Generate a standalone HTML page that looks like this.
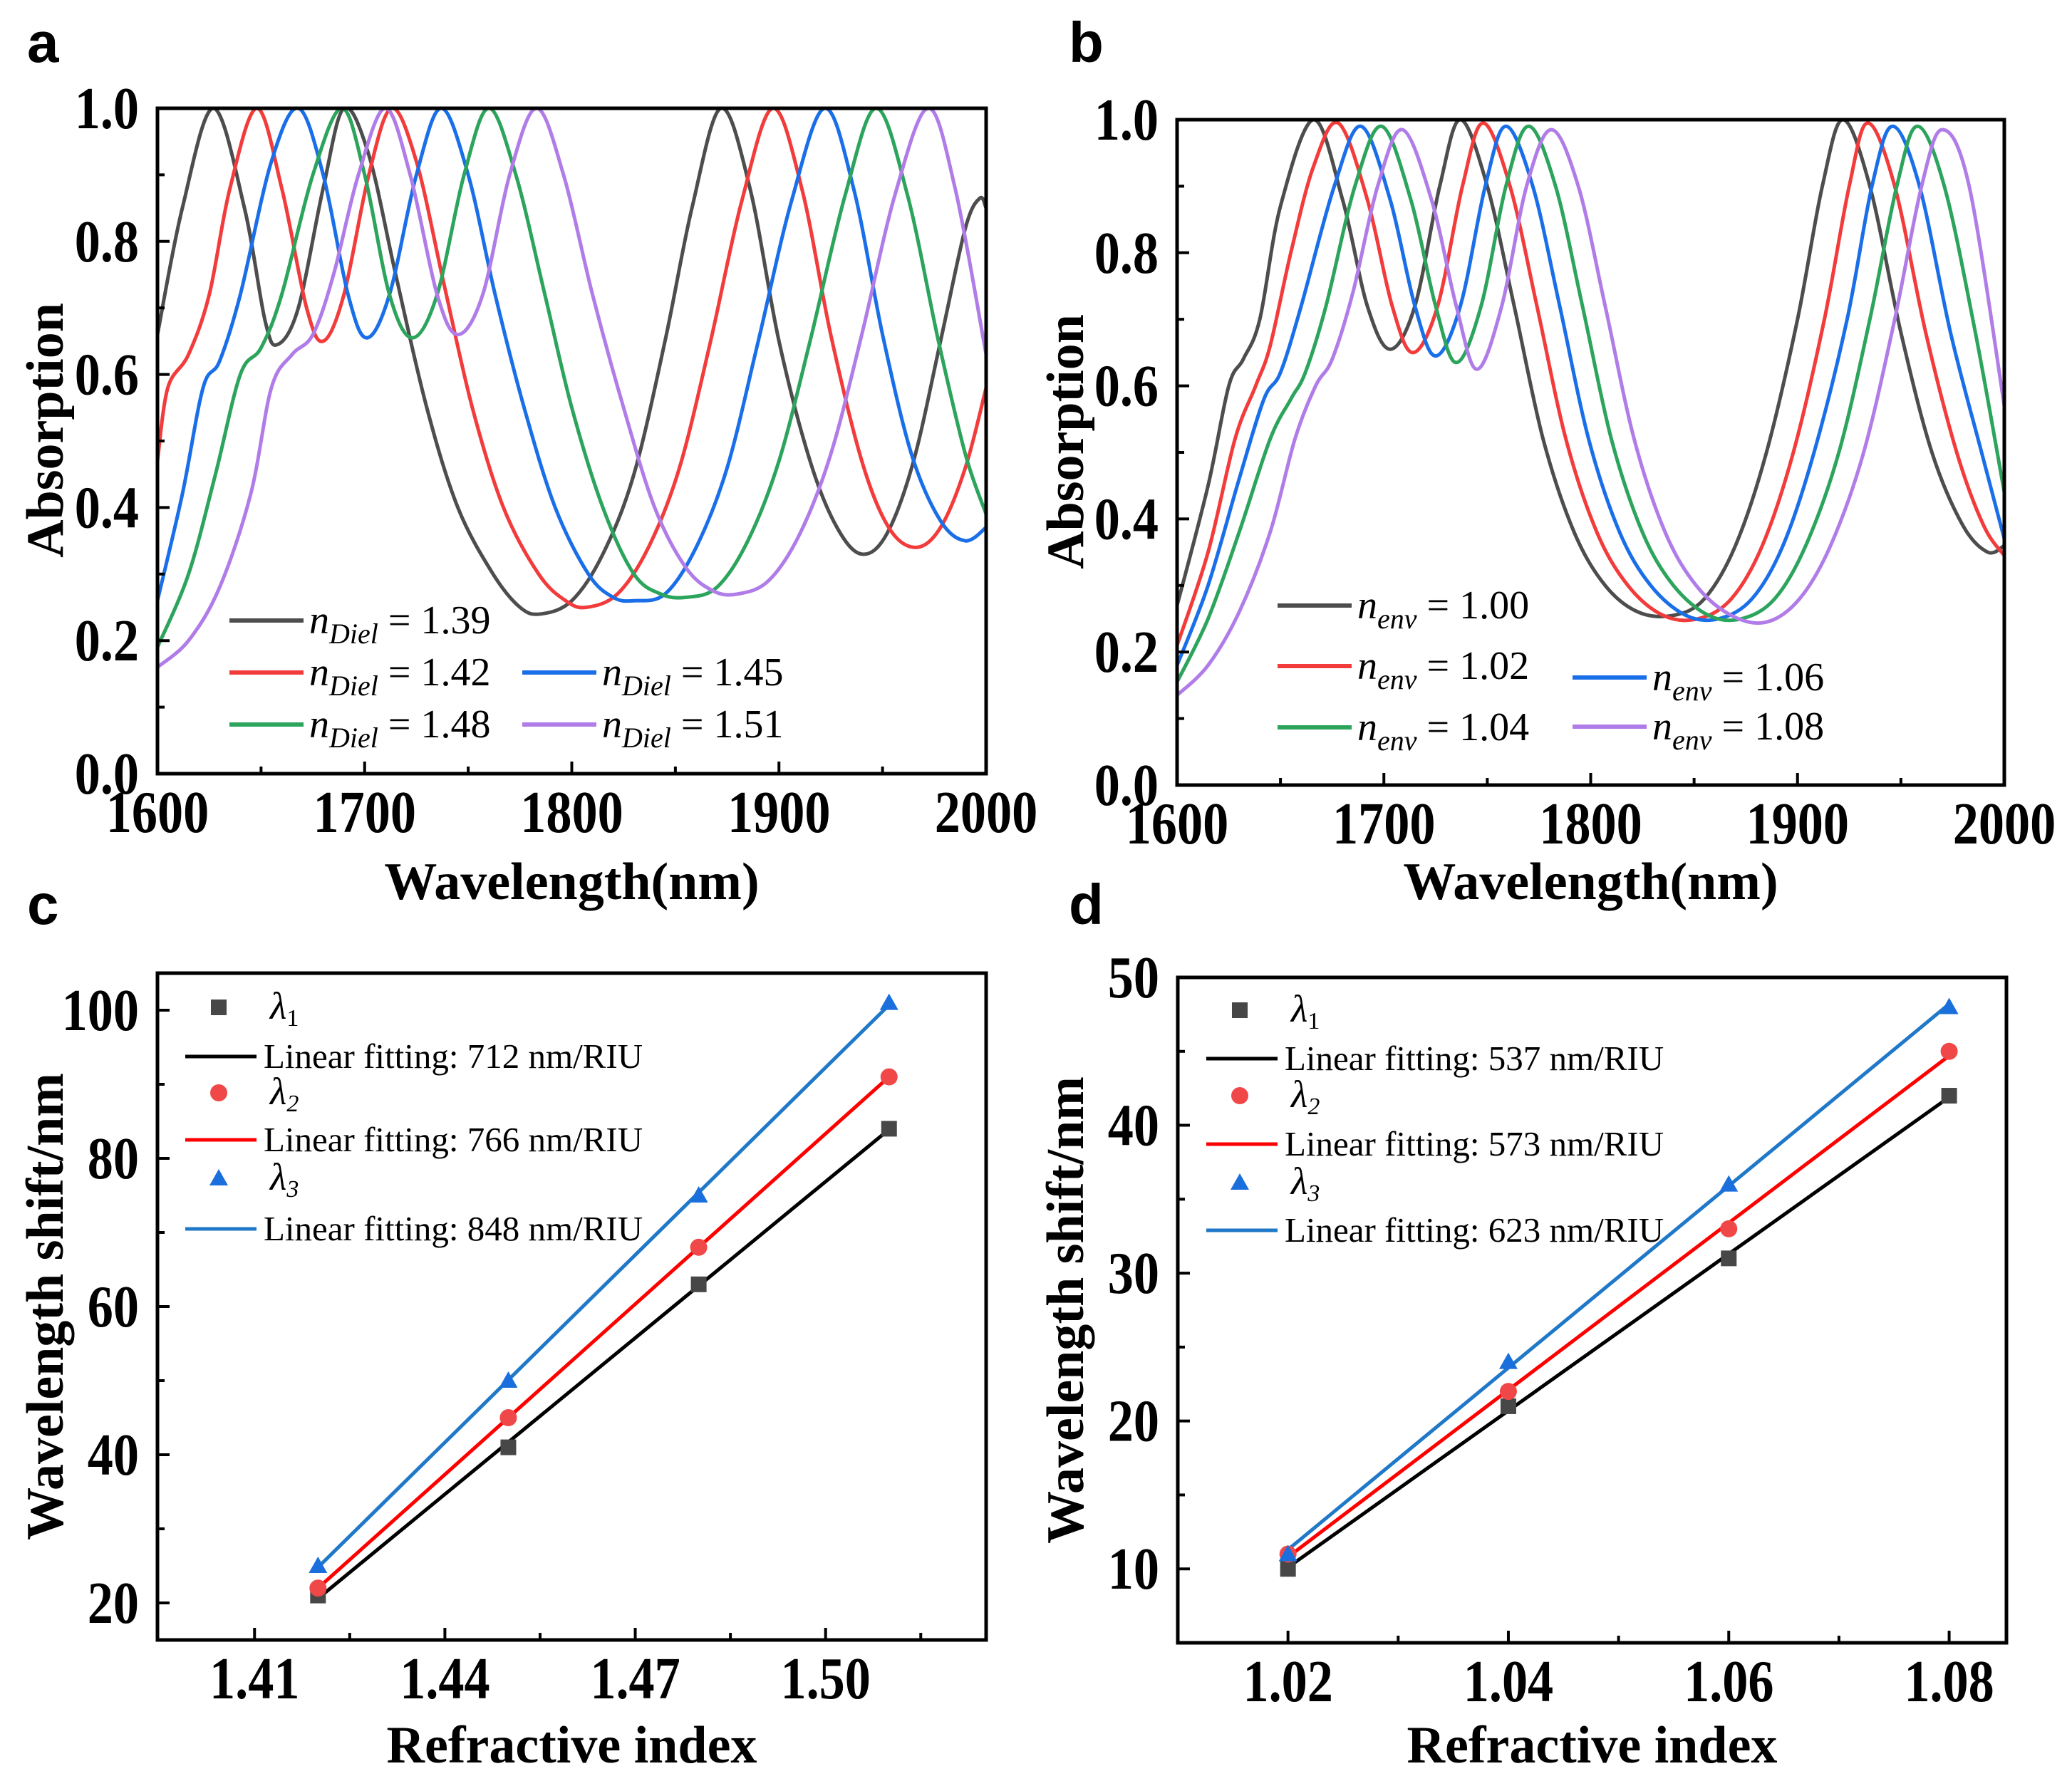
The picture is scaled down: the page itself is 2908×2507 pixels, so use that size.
<!DOCTYPE html>
<html><head><meta charset="utf-8">
<style>
html,body{margin:0;padding:0;background:#fff;}
svg{display:block;}
text{font-family:"Liberation Serif",serif;}
.tick{font-weight:bold;font-size:84px;}
.title{font-weight:bold;font-size:74px;}
.letter{font-family:"Liberation Sans",sans-serif;font-weight:bold;font-size:80px;}
.leg{font-size:56px;}
.leg2{font-size:49px;}
</style></head>
<body>
<svg id="fig" width="2908" height="2507" viewBox="0 0 2908 2507" xmlns="http://www.w3.org/2000/svg"></svg>
<script>
// ---------- Panel a data ----------
const aLabels = ["1.39","1.42","1.45","1.48","1.51"];
const aW139 = [1600,1612,1627,1642,1652,1658,1668,1680,1690,1702,1715,1730,1745,1762,1775,1785,1800,1815,1830,1845,1858,1872,1886,1900,1915,1928,1940,1952,1965,1978,1990,1997,2000];
const aA139 = [0.66,0.85,1.0,0.85,0.68,0.645,0.7,0.88,1.0,0.93,0.75,0.55,0.4,0.3,0.25,0.24,0.26,0.33,0.45,0.65,0.85,1.0,0.88,0.65,0.47,0.37,0.33,0.36,0.47,0.65,0.82,0.865,0.85];
const aW142 = [1600,1605,1615,1625,1635,1648,1660,1672,1680,1690,1702,1713,1725,1738,1752,1767,1784,1797,1807,1822,1837,1852,1867,1882,1897,1911,1925,1940,1953,1966,1978,1990,2000];
const aA142 = [0.47,0.58,0.63,0.72,0.88,1.0,0.88,0.7,0.65,0.72,0.9,1.0,0.92,0.74,0.55,0.4,0.3,0.26,0.25,0.27,0.34,0.46,0.65,0.86,1.0,0.88,0.66,0.47,0.37,0.34,0.37,0.46,0.58];
const aW145 = [1600,1612,1622,1630,1640,1655,1668,1680,1692,1701,1712,1725,1737,1750,1763,1777,1792,1808,1820,1830,1845,1860,1875,1890,1906,1922,1936,1950,1964,1978,1990,2000];
const aA145 = [0.26,0.42,0.58,0.62,0.72,0.92,1.0,0.9,0.72,0.655,0.72,0.9,1.0,0.9,0.72,0.55,0.4,0.3,0.265,0.26,0.27,0.34,0.46,0.65,0.86,1.0,0.88,0.66,0.48,0.38,0.35,0.37];
const aW148 = [1600,1615,1628,1640,1650,1660,1675,1689,1700,1712,1723,1735,1748,1760,1773,1787,1800,1815,1830,1843,1855,1870,1885,1900,1915,1932,1947,1962,1977,1990,2000];
const aA148 = [0.19,0.3,0.45,0.6,0.64,0.72,0.9,1.0,0.9,0.72,0.655,0.72,0.9,1.0,0.9,0.72,0.55,0.4,0.3,0.27,0.265,0.28,0.35,0.47,0.65,0.87,1.0,0.87,0.65,0.48,0.39];
const aW151 = [1600,1615,1630,1645,1655,1665,1675,1685,1697,1710,1722,1735,1745,1757,1770,1783,1796,1810,1825,1840,1855,1868,1880,1895,1910,1925,1940,1956,1972,1985,2000];
const aA151 = [0.16,0.2,0.28,0.42,0.58,0.63,0.66,0.75,0.9,1.0,0.9,0.72,0.66,0.72,0.9,1.0,0.9,0.72,0.55,0.4,0.31,0.275,0.27,0.29,0.36,0.48,0.66,0.87,1.0,0.88,0.63];
// ---------- Panel b data ----------
const bLabels = ["1.00","1.02","1.06","1.04","1.08"];
const bW100 = [1600,1615,1625,1632,1640,1650,1666,1680,1692,1703,1715,1727,1737,1750,1763,1777,1792,1807,1823,1840,1855,1870,1885,1900,1912,1922,1935,1950,1965,1980,1992,2000];
const bA100 = [0.27,0.45,0.6,0.64,0.7,0.87,1.0,0.88,0.72,0.655,0.72,0.9,1.0,0.9,0.72,0.52,0.38,0.3,0.26,0.255,0.28,0.36,0.5,0.7,0.9,1.0,0.9,0.68,0.5,0.39,0.35,0.36];
const bW102 = [1600,1615,1628,1638,1645,1655,1666,1678,1692,1704,1714,1726,1738,1748,1761,1774,1788,1803,1818,1835,1852,1868,1883,1898,1913,1925,1934,1947,1962,1977,1990,2000];
const bA102 = [0.21,0.35,0.52,0.6,0.66,0.8,0.93,0.995,0.88,0.72,0.65,0.72,0.9,0.995,0.9,0.72,0.52,0.38,0.3,0.255,0.25,0.28,0.36,0.5,0.7,0.9,0.995,0.9,0.68,0.5,0.39,0.345];
const bW104 = [1600,1615,1630,1642,1650,1660,1676,1689,1703,1715,1725,1737,1749,1759,1772,1785,1799,1814,1829,1846,1862,1878,1893,1908,1924,1936,1946,1959,1974,1989,2000];
const bA104 = [0.18,0.3,0.46,0.58,0.62,0.72,0.9,0.99,0.88,0.72,0.645,0.72,0.9,0.99,0.9,0.72,0.52,0.38,0.3,0.255,0.25,0.28,0.36,0.5,0.7,0.9,0.99,0.9,0.68,0.5,0.37];
const bW106 = [1600,1615,1630,1645,1655,1662,1672,1686,1699,1713,1725,1735,1747,1759,1770,1783,1796,1810,1825,1840,1857,1873,1889,1904,1920,1935,1948,1958,1971,1986,2000];
const bA106 = [0.155,0.25,0.38,0.52,0.58,0.62,0.72,0.9,0.99,0.88,0.72,0.635,0.72,0.9,0.99,0.9,0.72,0.52,0.38,0.3,0.255,0.25,0.28,0.36,0.5,0.7,0.9,0.99,0.9,0.68,0.44];
const bW108 = [1600,1615,1630,1645,1657,1667,1675,1685,1697,1709,1723,1735,1745,1757,1769,1781,1794,1807,1821,1836,1851,1868,1885,1901,1916,1932,1947,1960,1970,1983,2000];
const bA108 = [0.135,0.18,0.26,0.38,0.52,0.6,0.64,0.74,0.9,0.985,0.88,0.72,0.625,0.72,0.9,0.985,0.9,0.72,0.52,0.38,0.3,0.255,0.245,0.28,0.36,0.5,0.7,0.9,0.985,0.9,0.57];
// ---------- Panel c data ----------
const cX = [1.42,1.45,1.48,1.51];
const cL1 = [21,41,63,84];
const cL2 = [22,45,68,91];
const cL3 = [25,50,75,101];
const cFitLabels = ["712","766","848"];
const cXTicks = [1.41,1.44,1.47,1.50];
const cXTickLabels = ["1.41","1.44","1.47","1.50"];
const cYTicks = [20,40,60,80,100];
// ---------- Panel d data ----------
const dX = [1.02,1.04,1.06,1.08];
const dL1 = [10,21,31,42];
const dL2 = [11,22,33,45];
const dL3 = [11,24,36,48];
const dFitLabels = ["537","573","623"];
const dXTicks = [1.02,1.04,1.06,1.08];
const dXTickLabels = ["1.02","1.04","1.06","1.08"];
const dYTicks = [10,20,30,40,50];
const specXTicks = [1600,1700,1800,1900,2000];
const specYTicks = [0,0.2,0.4,0.6,0.8,1.0];
const specYLabels = ["0.0","0.2","0.4","0.6","0.8","1.0"];

const NS="http://www.w3.org/2000/svg";
const svg=document.getElementById('fig');
function mk(tag,attrs,parent){const e=document.createElementNS(NS,tag);for(const k in attrs)e.setAttribute(k,attrs[k]);(parent||svg).appendChild(e);return e;}
function txt(s,attrs,parent){const e=mk('text',attrs,parent);e.textContent=s;return e;}
function lin(d0,d1,r0,r1){return v=>r0+(v-d0)/(d1-d0)*(r1-r0);}
function smooth(pts){let d='M'+pts[0][0].toFixed(1)+','+pts[0][1].toFixed(1);
 for(let i=0;i<pts.length-1;i++){const p0=pts[Math.max(0,i-1)],p1=pts[i],p2=pts[i+1],p3=pts[Math.min(pts.length-1,i+2)];
  const c1=[p1[0]+(p2[0]-p0[0])/6,p1[1]+(p2[1]-p0[1])/6],c2=[p2[0]-(p3[0]-p1[0])/6,p2[1]-(p3[1]-p1[1])/6];
  d+='C'+c1[0].toFixed(1)+','+c1[1].toFixed(1)+' '+c2[0].toFixed(1)+','+c2[1].toFixed(1)+' '+p2[0].toFixed(1)+','+p2[1].toFixed(1);}
 return d;}

function frame(g,L,T,R,B,xs,ys,xt,xtl,yt,ytl,xminor,yminor){
  const ax=mk('g',{},g);
  
  
  xminor.forEach(v=>mk('line',{x1:xs(v),x2:xs(v),y1:B,y2:B-10,stroke:'#000','stroke-width':4},ax));
  yminor.forEach(v=>mk('line',{x1:L,x2:L+10,y1:ys(v),y2:ys(v),stroke:'#000','stroke-width':4},ax));
  xt.forEach((v,i)=>{mk('line',{x1:xs(v),x2:xs(v),y1:B,y2:B-17,stroke:'#000','stroke-width':4},ax);
    const t=txt(xtl[i],{x:0,y:0,'text-anchor':'middle',class:'tick',transform:'translate('+xs(v)+','+(B+82)+') scale(0.86,1)'},ax);
    
    });
  yt.forEach((v,i)=>{mk('line',{x1:L,x2:L+17,y1:ys(v),y2:ys(v),stroke:'#000','stroke-width':4},ax);
    const t=txt(ytl[i],{x:0,y:0,'text-anchor':'end',class:'tick',transform:'translate('+(L-26)+','+(ys(v)+28)+') scale(0.86,1)'},ax);
    
    });
  mk('rect',{x:L,y:T,width:R-L,height:B-T,fill:'none',stroke:'#000','stroke-width':5},ax);
}

const specColors=['#4d4d4d','#f23c3c','#1a6fe8','#2ca45c','#b07ce8'];
function spectrum(id,L,T,R,B,series,labels,sub,legendPos,letter,letterX,ytitleX){
  const g=mk('g',{});
  
  
  const xs=lin(1600,2000,L,R), ys=lin(0,1,B,T);
  mk('clipPath',{id:'clip'+id},g).appendChild(mk('rect',{x:L,y:T-2,width:R-L,height:B-T+2},g));
  const cg=mk('g',{'clip-path':'url(#clip'+id+')'},g);
  series.forEach((s,i)=>{const p=mk('path',{d:smooth(s[0].map((w,j)=>[xs(w),ys(s[1][j])])),fill:'none',stroke:specColors[i],'stroke-width':5,'stroke-linejoin':'round'},cg);
    
    });
  const minorX=[1650,1750,1850,1950], minorY=[0.1,0.3,0.5,0.7,0.9];
  frame(g,L,T,R,B,xs,ys,specXTicks,specXTicks.map(String),specYTicks,specYLabels,minorX,minorY);
  legendPos.forEach((p,i)=>{
    const lg=mk('g',{},g);
    
    
    mk('line',{x1:p[0],x2:p[0]+104,y1:p[1],y2:p[1],stroke:specColors[i],'stroke-width':6},lg);
    const t=mk('text',{x:p[0]+112,y:p[1]+18,class:'leg'},lg);
    const n=mk('tspan',{'font-style':'italic'},t); n.textContent='n';
    const sb=mk('tspan',{'font-style':'italic','font-size':'40px',dy:14},t); sb.textContent=sub;
    const v=mk('tspan',{dy:-14},t); v.textContent=' = '+labels[i];
  });
  const lt=txt(letter,{x:letterX,y:87,class:'letter'},g);
  
  
  const xt=txt('Wavelength(nm)',{x:(L+R)/2,y:1262,'text-anchor':'middle',class:'title'},g);
  
  
  const yt=txt('Absorption',{x:0,y:0,'text-anchor':'middle',class:'title',transform:'translate('+ytitleX+','+((T+B)/2-15)+') rotate(-90)'},g);
  
  
}

spectrum('a',221,152,1384,1086,[[aW139,aA139],[aW142,aA142],[aW145,aA145],[aW148,aA148],[aW151,aA151]],aLabels,'Diel',
  [[322,871],[322,944],[733,944],[322,1017],[733,1017]],'a',38,88);
spectrum('b',1652,168,2813,1102,[[bW100,bA100],[bW102,bA102],[bW104,bA104],[bW106,bA106],[bW108,bA108]],bLabels,'env',
  [[1793,850],[1793,935],[2207,951],[1793,1021],[2207,1020]],'b',1500,1520);

function fit(xv,yv){const n=xv.length,mx=xv.reduce((a,b)=>a+b)/n,my=yv.reduce((a,b)=>a+b)/n;
  let sxy=0,sxx=0;xv.forEach((x,i)=>{sxy+=(x-mx)*(yv[i]-my);sxx+=(x-mx)*(x-mx);});const k=sxy/sxx;return [k,my-k*mx];}

const fitColors=['#000000','#ff0000','#1f78c8'];
const markColors=['#474747','#f04848','#1a6fdc'];
function marker(g,type,x,y,c){
  if(type===0) return mk('rect',{x:x-11,y:y-11,width:22,height:22,fill:c},g);
  if(type===1) return mk('circle',{cx:x,cy:y,r:12,fill:c},g);
  return mk('path',{d:'M'+x+','+(y-13)+'L'+(x+13)+','+(y+10)+'L'+(x-13)+','+(y+10)+'Z',fill:c},g);
}
function shiftPanel(id,L,T,R,B,xd,yd,X,Ys,fitLabels,xt,xtl,yt,xminor,yminor,leg,letter,letterX,ytitleX){
  const g=mk('g',{});
  
  
  const xs=lin(xd[0],xd[1],L,R), ys=lin(yd[0],yd[1],B,T);
  Ys.forEach((Y,i)=>{const [k,b]=fit(X,Y);
    const l=mk('line',{x1:xs(X[0]),y1:ys(k*X[0]+b),x2:xs(X[X.length-1]),y2:ys(k*X[X.length-1]+b),stroke:fitColors[i],'stroke-width':5},g);
    
    });
  Ys.forEach((Y,i)=>X.forEach((x,j)=>{const m=marker(g,i,xs(x),ys(Y[j]),markColors[i]);
    
    }));
  frame(g,L,T,R,B,xs,ys,xt,xtl,yt,yt.map(String),xminor,yminor);
  for(let i=0;i<3;i++){
    const lg=mk('g',{},g);
    
    
    const my=leg.y[2*i], ly=leg.y[2*i+1];
    marker(lg,i,leg.mx,my,markColors[i]);
    const t=mk('text',{x:leg.mx+72,y:my+16,class:'leg2'},lg);
    const a=mk('tspan',{'font-style':'italic','font-size':'54px'},t);a.textContent='λ';
    const s=mk('tspan',{'font-size':'34px',dy:10,'font-style':i===0?'normal':'italic'},t);s.textContent=String(i+1);
    mk('line',{x1:leg.lx,x2:leg.lx+100,y1:ly,y2:ly,stroke:fitColors[i],'stroke-width':5},lg);
    txt('Linear fitting: '+fitLabels[i]+' nm/RIU',{x:leg.lx+110,y:ly+16,class:'leg2'},lg);
  }
  const lt=txt(letter,{x:letterX,y:1297,class:'letter'},g);
  
  
  const xt2=txt('Refractive index',{x:(L+R)/2,y:2474,'text-anchor':'middle',class:'title'},g);
  
  
  const yt2=txt('Wavelength shift/nm',{x:0,y:0,'text-anchor':'middle',class:'title',transform:'translate('+ytitleX+','+((T+B)/2)+') rotate(-90)'},g);
  
  
}
shiftPanel('c',221,1366,1384,2302,[1.3947,1.5253],[15,105],cX,[cL1,cL2,cL3],cFitLabels,cXTicks,cXTickLabels,cYTicks,
  [1.425,1.455,1.485,1.515],[30,50,70,90],{mx:307,lx:260,y:[1414,1483,1534,1600,1654,1725]},'c',38,88);
shiftPanel('d',1653,1372,2816,2306,[1.010,1.0852],[5,50],dX,[dL1,dL2,dL3],dFitLabels,dXTicks,dXTickLabels,dYTicks,
  [1.03,1.05,1.07],[15,25,35,45],{mx:1740,lx:1693,y:[1418,1486,1538,1606,1660,1727]},'d',1500,1520);
</script>
</body></html>
